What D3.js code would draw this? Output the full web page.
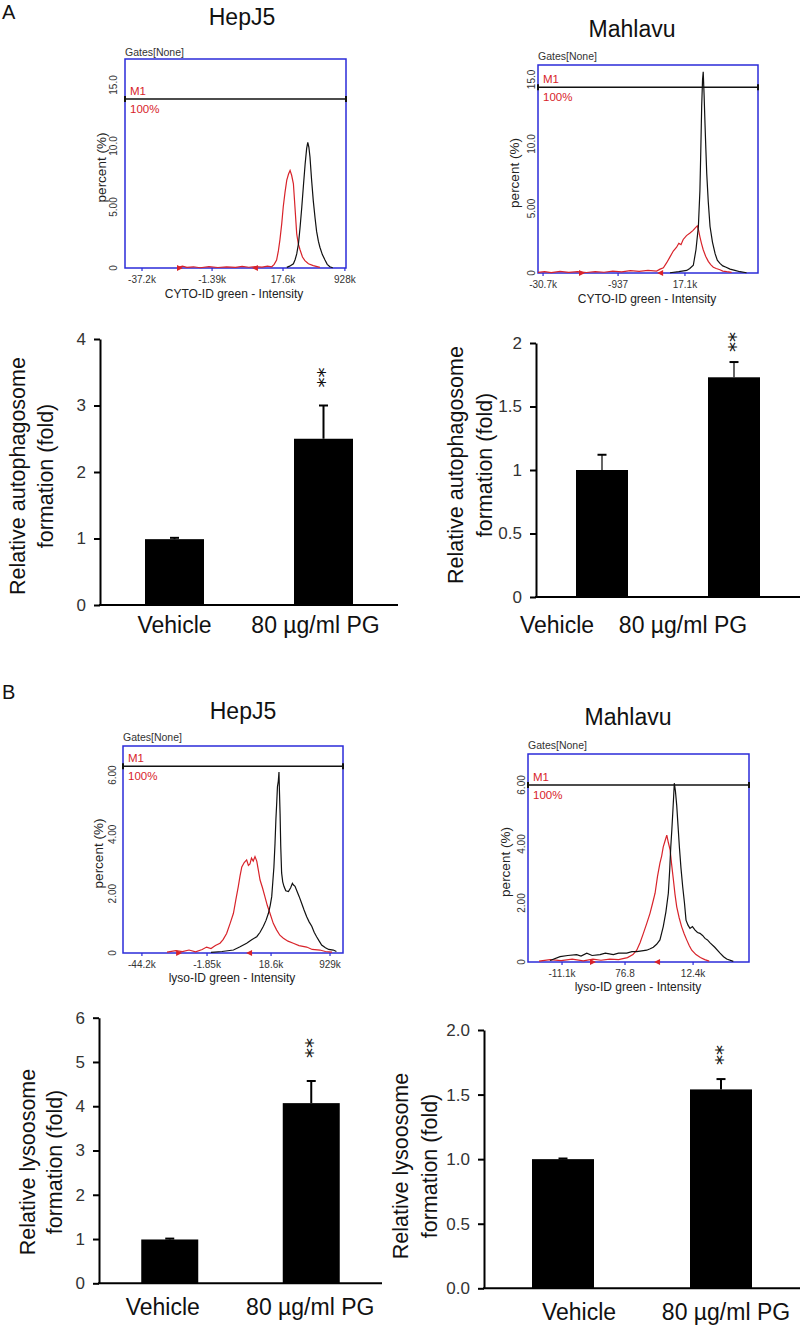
<!DOCTYPE html>
<html><head><meta charset="utf-8">
<script src="https://cdn.jsdelivr.net/npm/d3@7"></script>
<style>body{margin:0;background:#fff;} svg{display:block;font-family:"Liberation Sans",Arial,sans-serif;}</style>
</head><body><svg id="c" width="800" height="1325"></svg>
<script>
// ---------------- DATA ----------------
const barCategories = ["Vehicle", "80 µg/ml PG"];

// Panel A: relative autophagosome formation (fold)
const autoHepJ5 = [0.99, 2.50];
const autoHepJ5Err = [0.02, 0.50];
const autoHepJ5Ticks = [0, 1, 2, 3, 4];
const autoHepJ5TickLabels = ["0", "1", "2", "3", "4"];

const autoMahlavu = [1.00, 1.73];
const autoMahlavuErr = [0.12, 0.12];
const autoMahlavuTicks = [0, 0.5, 1, 1.5, 2];
const autoMahlavuTickLabels = ["0", "0.5", "1", "1.5", "2"];

// Panel B: relative lysoosome formation (fold)
const lysoHepJ5 = [0.99, 4.07];
const lysoHepJ5Err = [0.02, 0.50];
const lysoHepJ5Ticks = [0, 1, 2, 3, 4, 5, 6];
const lysoHepJ5TickLabels = ["0", "1", "2", "3", "4", "5", "6"];

const lysoMahlavu = [1.00, 1.54];
const lysoMahlavuErr = [0.005, 0.08];
const lysoMahlavuTicks = [0, 0.5, 1.0, 1.5, 2.0];
const lysoMahlavuTickLabels = ["0.0", "0.5", "1.0", "1.5", "2.0"];

// Flow cytometry histograms: [position along log axis (0-100), percent]
const histAHepJ5Red = [[24,0.05],[26,0.15],[28,0.05],[31,0.1],[34,0.02],[38,0.12],[42,0.04],[46,0.1],[50,0.05],[53,0.14],[56,0.06],[59,0.12],[62,0.08],[64.5,0.15],[66.4,0.1],[67.5,0.3],[68.6,0.65],[69.4,1.4],[70.1,2.3],[70.9,3.6],[71.6,5.0],[72.4,6.2],[73.2,7.2],[74.0,7.7],[74.7,8.0],[75.4,7.6],[76.2,6.9],[76.9,5.0],[77.7,2.8],[78.4,2.0],[79.2,1.5],[80.3,0.9],[81.4,0.6],[83,0.35],[85.2,0.2],[88.2,0.05]];
const histAHepJ5Black = [[73.2,0.05],[74.5,0.15],[76.2,0.35],[77,0.7],[77.7,1.15],[78.5,2.0],[79.2,3.3],[80.0,5.0],[80.8,6.9],[81.5,8.5],[82.2,9.8],[82.7,10.3],[83.2,9.9],[83.7,9.1],[84.4,7.3],[85.2,5.5],[86.0,4.1],[86.7,3.0],[87.5,2.2],[88.2,1.7],[89.3,1.1],[90.5,0.65],[91.5,0.3],[92.7,0.1],[94,0.02]];
const histAHepJ5XTicks = [7.7, 39.4, 71.5, 99.5];
const histAHepJ5XLabels = ["-37.2k", "-1.39k", "17.6k", "928k"];
const histAHepJ5YTicks = [0, 5, 10, 15];
const histAHepJ5YLabels = ["0", "5.00", "10.0", "15.0"];
const histAHepJ5Gates = [24.9, 58.8];

const histAMahlavuRed = [[0,0.05],[3,0.1],[6,0.03],[10,0.12],[14,0.05],[18,0.1],[22,0.04],[26,0.1],[30,0.06],[34,0.14],[38,0.08],[42,0.18],[46,0.12],[50,0.2],[53.9,0.15],[55.5,0.3],[57,0.4],[58.5,0.8],[60,1.25],[61.5,1.7],[63,2.0],[64,2.3],[65,2.2],[66,2.6],[67.5,2.9],[69.1,3.1],[70.5,3.3],[71.5,3.5],[72.4,3.65],[73,3.3],[73.6,2.8],[74.3,2.3],[75.1,1.8],[76.2,1.3],[77.4,0.9],[78.5,0.65],[79.7,0.45],[81,0.35],[82.7,0.25],[84,0.15],[85.8,0.1],[88,0.05]];
const histAMahlavuBlack = [[60,0.02],[64,0.1],[67.6,0.2],[69,0.35],[70.6,0.6],[71.8,1.8],[72.9,3.6],[73.6,6.4],[74.0,9.5],[74.4,12.9],[74.8,15.0],[75.1,15.6],[75.5,13.8],[75.9,11.6],[76.3,9.6],[76.7,7.7],[77.4,5.5],[78.2,3.6],[79.3,2.4],[80.5,1.5],[81.5,1.0],[82.7,0.75],[84,0.55],[85.5,0.45],[87.3,0.3],[89.5,0.2],[91.8,0.1],[94.8,0.02]];
const histAMahlavuXTicks = [2.3, 36.4, 66.8];
const histAMahlavuXLabels = ["-30.7k", "-937", "17.1k"];
const histAMahlavuYTicks = [0, 5, 10, 15];
const histAMahlavuYLabels = ["0", "5.00", "10.0", "15.0"];
const histAMahlavuGates = [20, 55.5];

const histBHepJ5Red = [[20,0.03],[24,0.08],[27,0.05],[30,0.1],[33,0.04],[36,0.12],[38,0.2],[40,0.15],[42,0.25],[44.1,0.33],[45.5,0.45],[47.1,0.66],[48.7,1.0],[50.2,1.34],[51.3,1.8],[52.4,2.24],[53.2,2.6],[54.0,2.9],[55.1,3.05],[56.2,3.14],[57.0,2.95],[57.7,3.0],[58.4,3.2],[59.2,3.1],[60.0,3.25],[60.8,3.1],[61.5,2.8],[62.3,2.46],[63.4,2.2],[64.5,1.9],[65.6,1.6],[66.8,1.34],[68.3,1.0],[69.8,0.78],[71.3,0.6],[72.9,0.5],[75,0.4],[77.4,0.33],[80,0.25],[83.5,0.2],[86,0.12],[89.5,0.1],[92,0.05],[95,0.03]];
const histBHepJ5Black = [[40,0.02],[45,0.05],[50.2,0.1],[53,0.2],[56.2,0.33],[58.5,0.45],[60.8,0.55],[62.3,0.7],[63.8,0.9],[65,1.1],[66.1,1.34],[66.9,1.6],[67.6,1.9],[68.1,2.4],[68.6,2.9],[69.1,3.7],[69.5,4.5],[69.9,5.1],[70.2,5.6],[70.6,5.8],[70.9,6.1],[71.1,5.5],[71.4,4.7],[71.7,3.6],[72.1,2.7],[72.6,2.4],[73.2,2.24],[74.0,2.1],[75.2,2.07],[76.2,2.2],[77.0,2.35],[77.4,2.3],[78.2,2.25],[79.0,2.1],[80.1,1.9],[81.2,1.68],[82.3,1.45],[83.5,1.22],[84.6,1.05],[85.8,0.9],[86.9,0.7],[88.0,0.55],[89.2,0.4],[90.3,0.27],[92,0.18],[93.5,0.12],[95.6,0.1],[97,0.05]];
const histBHepJ5XTicks = [8.6, 38.2, 67.3, 94.1];
const histBHepJ5XLabels = ["-44.2k", "-1.85k", "18.6k", "929k"];
const histBHepJ5YTicks = [0, 2, 4, 6];
const histBHepJ5YLabels = ["0", "2.00", "4.00", "6.00"];
const histBHepJ5Gates = [25.5, 57.3];

const histBMahlavuRed = [[5,0.03],[10,0.08],[15,0.05],[20,0.1],[25,0.04],[29.4,0.1],[33,0.06],[37,0.1],[41,0.08],[45,0.15],[47.5,0.25],[49.2,0.4],[50.7,0.65],[52.2,0.97],[53.7,1.3],[55.2,1.65],[56.4,2.0],[57.5,2.33],[58.6,2.9],[59.7,3.35],[60.5,3.6],[61.2,3.9],[62.0,4.1],[62.8,4.3],[63.5,4.05],[64.3,3.8],[65.0,3.3],[65.8,2.78],[66.5,2.3],[67.3,1.87],[68.4,1.5],[69.5,1.2],[70.7,0.95],[71.8,0.75],[73,0.55],[74.1,0.4],[76,0.25],[78,0.15],[80,0.08],[82,0.03]];
const histBMahlavuBlack = [[10,0.05],[14.5,0.18],[18,0.22],[22,0.25],[24,0.2],[26.6,0.3],[29,0.22],[32.6,0.25],[35,0.3],[38.6,0.25],[41,0.3],[44.7,0.3],[47,0.35],[49.2,0.35],[51.5,0.38],[53.7,0.4],[55.3,0.45],[56.7,0.5],[58.2,0.6],[59.7,0.75],[61.2,1.2],[62.4,1.7],[63.5,2.33],[64.1,3.1],[64.6,3.9],[65.1,4.5],[65.5,5.04],[65.9,5.6],[66.2,6.06],[66.7,5.8],[67.3,5.3],[67.9,4.6],[68.5,3.9],[69.2,3.2],[70.0,2.55],[70.8,2.0],[71.5,1.42],[72.4,1.25],[73.3,1.14],[74.4,1.2],[75.6,1.08],[76.7,1.0],[77.8,0.97],[79,0.9],[80.1,0.8],[81.2,0.75],[82.4,0.65],[84.5,0.5],[86.9,0.3],[88.5,0.18],[89.9,0.1],[92.9,0.02]];
const histBMahlavuXTicks = [15.4, 43.9, 74.7];
const histBMahlavuXLabels = ["-11.1k", "76.8", "12.4k"];
const histBMahlavuYTicks = [0, 2, 4, 6];
const histBMahlavuYLabels = ["0", "2.00", "4.00", "6.00"];
const histBMahlavuGates = [29.4, 58.4];

// ---------------- DRAWING ----------------
const svg = d3.select("#c");
svg.append("rect").attr("width", 800).attr("height", 1325).attr("fill", "#fff");

const RED = "#d8232a", BLUE = "#2b2bd9";

function drawHist(c) {
  const g = svg.append("g");
  const x = d3.scaleLinear().domain([0, 100]).range([c.x0, c.x1]);
  const y = d3.scaleLinear().domain([0, c.yMax]).range([c.y1, c.y0]);
  g.append("text").attr("x", c.tx).attr("y", c.ty).attr("text-anchor", "middle")
    .attr("font-size", 23).attr("fill", "#111").text(c.title);
  g.append("text").attr("x", c.x0).attr("y", c.gy).attr("font-size", 10.5)
    .attr("fill", "#333").text("Gates[None]");
  g.append("rect").attr("x", c.x0).attr("y", c.y0).attr("width", c.x1 - c.x0)
    .attr("height", c.y1 - c.y0).attr("fill", "#fff").attr("stroke", BLUE).attr("stroke-width", 1.5);
  // y tick labels (rotated)
  c.yTicks.forEach((v, i) => {
    g.append("text").attr("transform", `translate(${c.ytx},${y(v)}) rotate(-90)`)
      .attr("text-anchor", "middle").attr("dominant-baseline", "central")
      .attr("font-size", 10).attr("fill", "#333").text(c.yLabels[i]);
  });
  g.append("text").attr("transform", `translate(${c.px},${(c.y0 + c.y1) / 2 + 4}) rotate(-90)`)
    .attr("text-anchor", "middle").attr("dominant-baseline", "central")
    .attr("font-size", 13.5).attr("fill", "#222").text("percent (%)");
  // x ticks
  c.xTicks.forEach((v, i) => {
    g.append("line").attr("x1", x(v)).attr("x2", x(v)).attr("y1", c.y1).attr("y2", c.y1 + 3)
      .attr("stroke", BLUE).attr("stroke-width", 1.2);
    g.append("text").attr("x", x(v)).attr("y", c.xtly).attr("text-anchor", "middle")
      .attr("font-size", 10).attr("fill", "#333").text(c.xLabels[i]);
  });
  g.append("text").attr("x", c.xlx).attr("y", c.xly).attr("text-anchor", "middle")
    .attr("font-size", 12).attr("fill", "#222").text(c.xTitle);
  const line = d3.line().x(d => x(d[0])).y(d => y(d[1]));
  g.append("path").datum(c.red).attr("d", line).attr("fill", "none")
    .attr("stroke", RED).attr("stroke-width", 1.2);
  g.append("path").datum(c.black).attr("d", line).attr("fill", "none")
    .attr("stroke", "#111").attr("stroke-width", 1.2);
  // gate markers
  c.gates.forEach((v, i) => {
    const gx = x(v), gy = c.y1, dir = i === 0 ? 1 : -1;
    g.append("path").attr("d", `M${gx - 3 * dir},${gy - 3}L${gx + 3 * dir},${gy}L${gx - 3 * dir},${gy + 3}Z`)
      .attr("fill", RED);
  });
  // M1 marker line
  const my = y(c.m1);
  g.append("line").attr("x1", c.x0).attr("x2", c.x1).attr("y1", my).attr("y2", my)
    .attr("stroke", "#111").attr("stroke-width", 1.5);
  [c.x0, c.x1].forEach(ex => g.append("line").attr("x1", ex).attr("x2", ex)
    .attr("y1", my - 3).attr("y2", my + 3).attr("stroke", "#111").attr("stroke-width", 2));
  g.append("text").attr("x", c.x0 + 5).attr("y", my - 4).attr("font-size", 11.5)
    .attr("fill", RED).text("M1");
  g.append("text").attr("x", c.x0 + 5).attr("y", my + 14).attr("font-size", 11.5)
    .attr("fill", RED).text("100%");
}

function drawBar(c) {
  const g = svg.append("g");
  const x = d3.scalePoint().domain(barCategories).range([c.ax, c.xEnd]).padding(0.5);
  const y = d3.scaleLinear().domain([0, c.ticks[c.ticks.length - 1]]).range([c.y0, c.yTop]);
  // error bars (upper only)
  barCategories.forEach((cat, i) => {
    const cx = x(cat), top = y(c.values[i] + c.errs[i]);
    g.append("line").attr("x1", cx).attr("x2", cx).attr("y1", y(c.values[i])).attr("y2", top)
      .attr("stroke", "#000").attr("stroke-width", c.ew);
    g.append("line").attr("x1", cx - 4.5).attr("x2", cx + 4.5).attr("y1", top).attr("y2", top)
      .attr("stroke", "#000").attr("stroke-width", 2);
  });
  g.selectAll("rect.bar").data(c.values).join("rect").attr("class", "bar")
    .attr("x", (d, i) => x(barCategories[i]) - c.bw / 2).attr("y", d => y(d))
    .attr("width", c.bw).attr("height", d => y(0) - y(d)).attr("fill", "#000");
  // axes
  const ay = g.append("g").attr("transform", `translate(${c.ax},0)`)
    .call(d3.axisLeft(y).tickValues(c.ticks).tickFormat((d, i) => c.tickLabels[i])
      .tickSize(6).tickSizeOuter(0).tickPadding(8));
  ay.select(".domain").attr("stroke", "#000").attr("stroke-width", 2);
  ay.selectAll(".tick line").attr("stroke", "#000").attr("stroke-width", 2);
  ay.selectAll(".tick text").attr("font-size", 17).attr("fill", "#333")
    .attr("font-family", "'Liberation Sans', Arial, sans-serif");
  g.append("line").attr("x1", c.ax - 1).attr("x2", c.xEnd).attr("y1", y(0)).attr("y2", y(0))
    .attr("stroke", "#000").attr("stroke-width", 2);
  // category labels
  barCategories.forEach((cat, i) => {
    g.append("text").attr("x", x(cat) + c.lo[i]).attr("y", c.ly).attr("text-anchor", "middle")
      .attr("font-size", 23).attr("fill", "#111").text(cat);
  });
  // significance stars, stacked vertically above the treated bar
  const fs = 20;
  const sx = x(barCategories[1]), sc = y(c.values[1] + c.errs[1]) - c.sg;
  g.append("text").attr("transform", `translate(${sx - 0.57 * fs},${sc}) rotate(90)`)
    .attr("text-anchor", "middle").attr("font-family", "'DejaVu Sans', sans-serif")
    .attr("font-size", fs).attr("fill", "#111").text("**");
  // y title (two lines)
  c.yTitle.forEach((t, i) => {
    g.append("text").attr("transform", `translate(${c.tl[i]},${c.tcy}) rotate(-90)`)
      .attr("text-anchor", "middle").attr("font-size", 21.5).attr("fill", "#111").text(t);
  });
}

// panel letters
svg.append("text").attr("x", 2).attr("y", 19).attr("font-size", 20).attr("fill", "#111").text("A");
svg.append("text").attr("x", 2).attr("y", 699).attr("font-size", 20).attr("fill", "#111").text("B");

drawHist({title: "HepJ5", tx: 242, ty: 25, gy: 56, x0: 125, x1: 346, y0: 59, y1: 268, yMax: 17.13, m1: 13.85,
  ytx: 113, px: 101, xtly: 283, xlx: 234, xly: 298, xTitle: "CYTO-ID green - Intensity",
  red: histAHepJ5Red, black: histAHepJ5Black, xTicks: histAHepJ5XTicks, xLabels: histAHepJ5XLabels,
  yTicks: histAHepJ5YTicks, yLabels: histAHepJ5YLabels, gates: histAHepJ5Gates});
drawHist({title: "Mahlavu", tx: 632, ty: 37, gy: 60, x0: 538, x1: 758, y0: 65, y1: 273, yMax: 16.12, m1: 14.4,
  ytx: 531, px: 514, xtly: 288, xlx: 647, xly: 303, xTitle: "CYTO-ID green - Intensity",
  red: histAMahlavuRed, black: histAMahlavuBlack, xTicks: histAMahlavuXTicks, xLabels: histAMahlavuXLabels,
  yTicks: histAMahlavuYTicks, yLabels: histAMahlavuYLabels, gates: histAMahlavuGates});
drawHist({title: "HepJ5", tx: 243, ty: 719, gy: 741, x0: 123, x1: 343, y0: 746, y1: 953, yMax: 6.98, m1: 6.3,
  ytx: 112, px: 98, xtly: 968, xlx: 232, xly: 982, xTitle: "lyso-ID green - Intensity",
  red: histBHepJ5Red, black: histBHepJ5Black, xTicks: histBHepJ5XTicks, xLabels: histBHepJ5XLabels,
  yTicks: histBHepJ5YTicks, yLabels: histBHepJ5YLabels, gates: histBHepJ5Gates});
drawHist({title: "Mahlavu", tx: 628, ty: 725, gy: 749, x0: 528, x1: 749, y0: 754, y1: 962, yMax: 7.05, m1: 6.0,
  ytx: 521, px: 505, xtly: 977, xlx: 638, xly: 991, xTitle: "lyso-ID green - Intensity",
  red: histBMahlavuRed, black: histBMahlavuBlack, xTicks: histBMahlavuXTicks, xLabels: histBMahlavuXLabels,
  yTicks: histBMahlavuYTicks, yLabels: histBMahlavuYLabels, gates: histBMahlavuGates});

drawBar({values: autoHepJ5, errs: autoHepJ5Err, ticks: autoHepJ5Ticks, tickLabels: autoHepJ5TickLabels,
  ax: 100, xEnd: 398, y0: 605, yTop: 339, bw: 59, ew: 2, lo: [0, -8], ly: 633, sg: 28,
  yTitle: ["Relative autophagosome", "formation (fold)"], tl: [25, 53], tcy: 476});
drawBar({values: autoMahlavu, errs: autoMahlavuErr, ticks: autoMahlavuTicks, tickLabels: autoMahlavuTickLabels,
  ax: 536, xEnd: 800, y0: 597, yTop: 343, bw: 52, ew: 1.2, lo: [-45, -51], ly: 633, sg: 20,
  yTitle: ["Relative autophagosome", "formation (fold)"], tl: [463, 492], tcy: 465});
drawBar({values: lysoHepJ5, errs: lysoHepJ5Err, ticks: lysoHepJ5Ticks, tickLabels: lysoHepJ5TickLabels,
  ax: 99, xEnd: 382, y0: 1283.3, yTop: 1017.7, bw: 57, ew: 2, lo: [-7, -1], ly: 1315, sg: 33,
  yTitle: ["Relative lysoosome", "formation (fold)"], tl: [35, 62], tcy: 1162});
drawBar({values: lysoMahlavu, errs: lysoMahlavuErr, ticks: lysoMahlavuTicks, tickLabels: lysoMahlavuTickLabels,
  ax: 484, xEnd: 800, y0: 1288.3, yTop: 1030, bw: 62, ew: 2, lo: [16, 5], ly: 1320, sg: 24,
  yTitle: ["Relative lysoosome", "formation (fold)"], tl: [408, 437], tcy: 1166});
</script>
</body></html>
